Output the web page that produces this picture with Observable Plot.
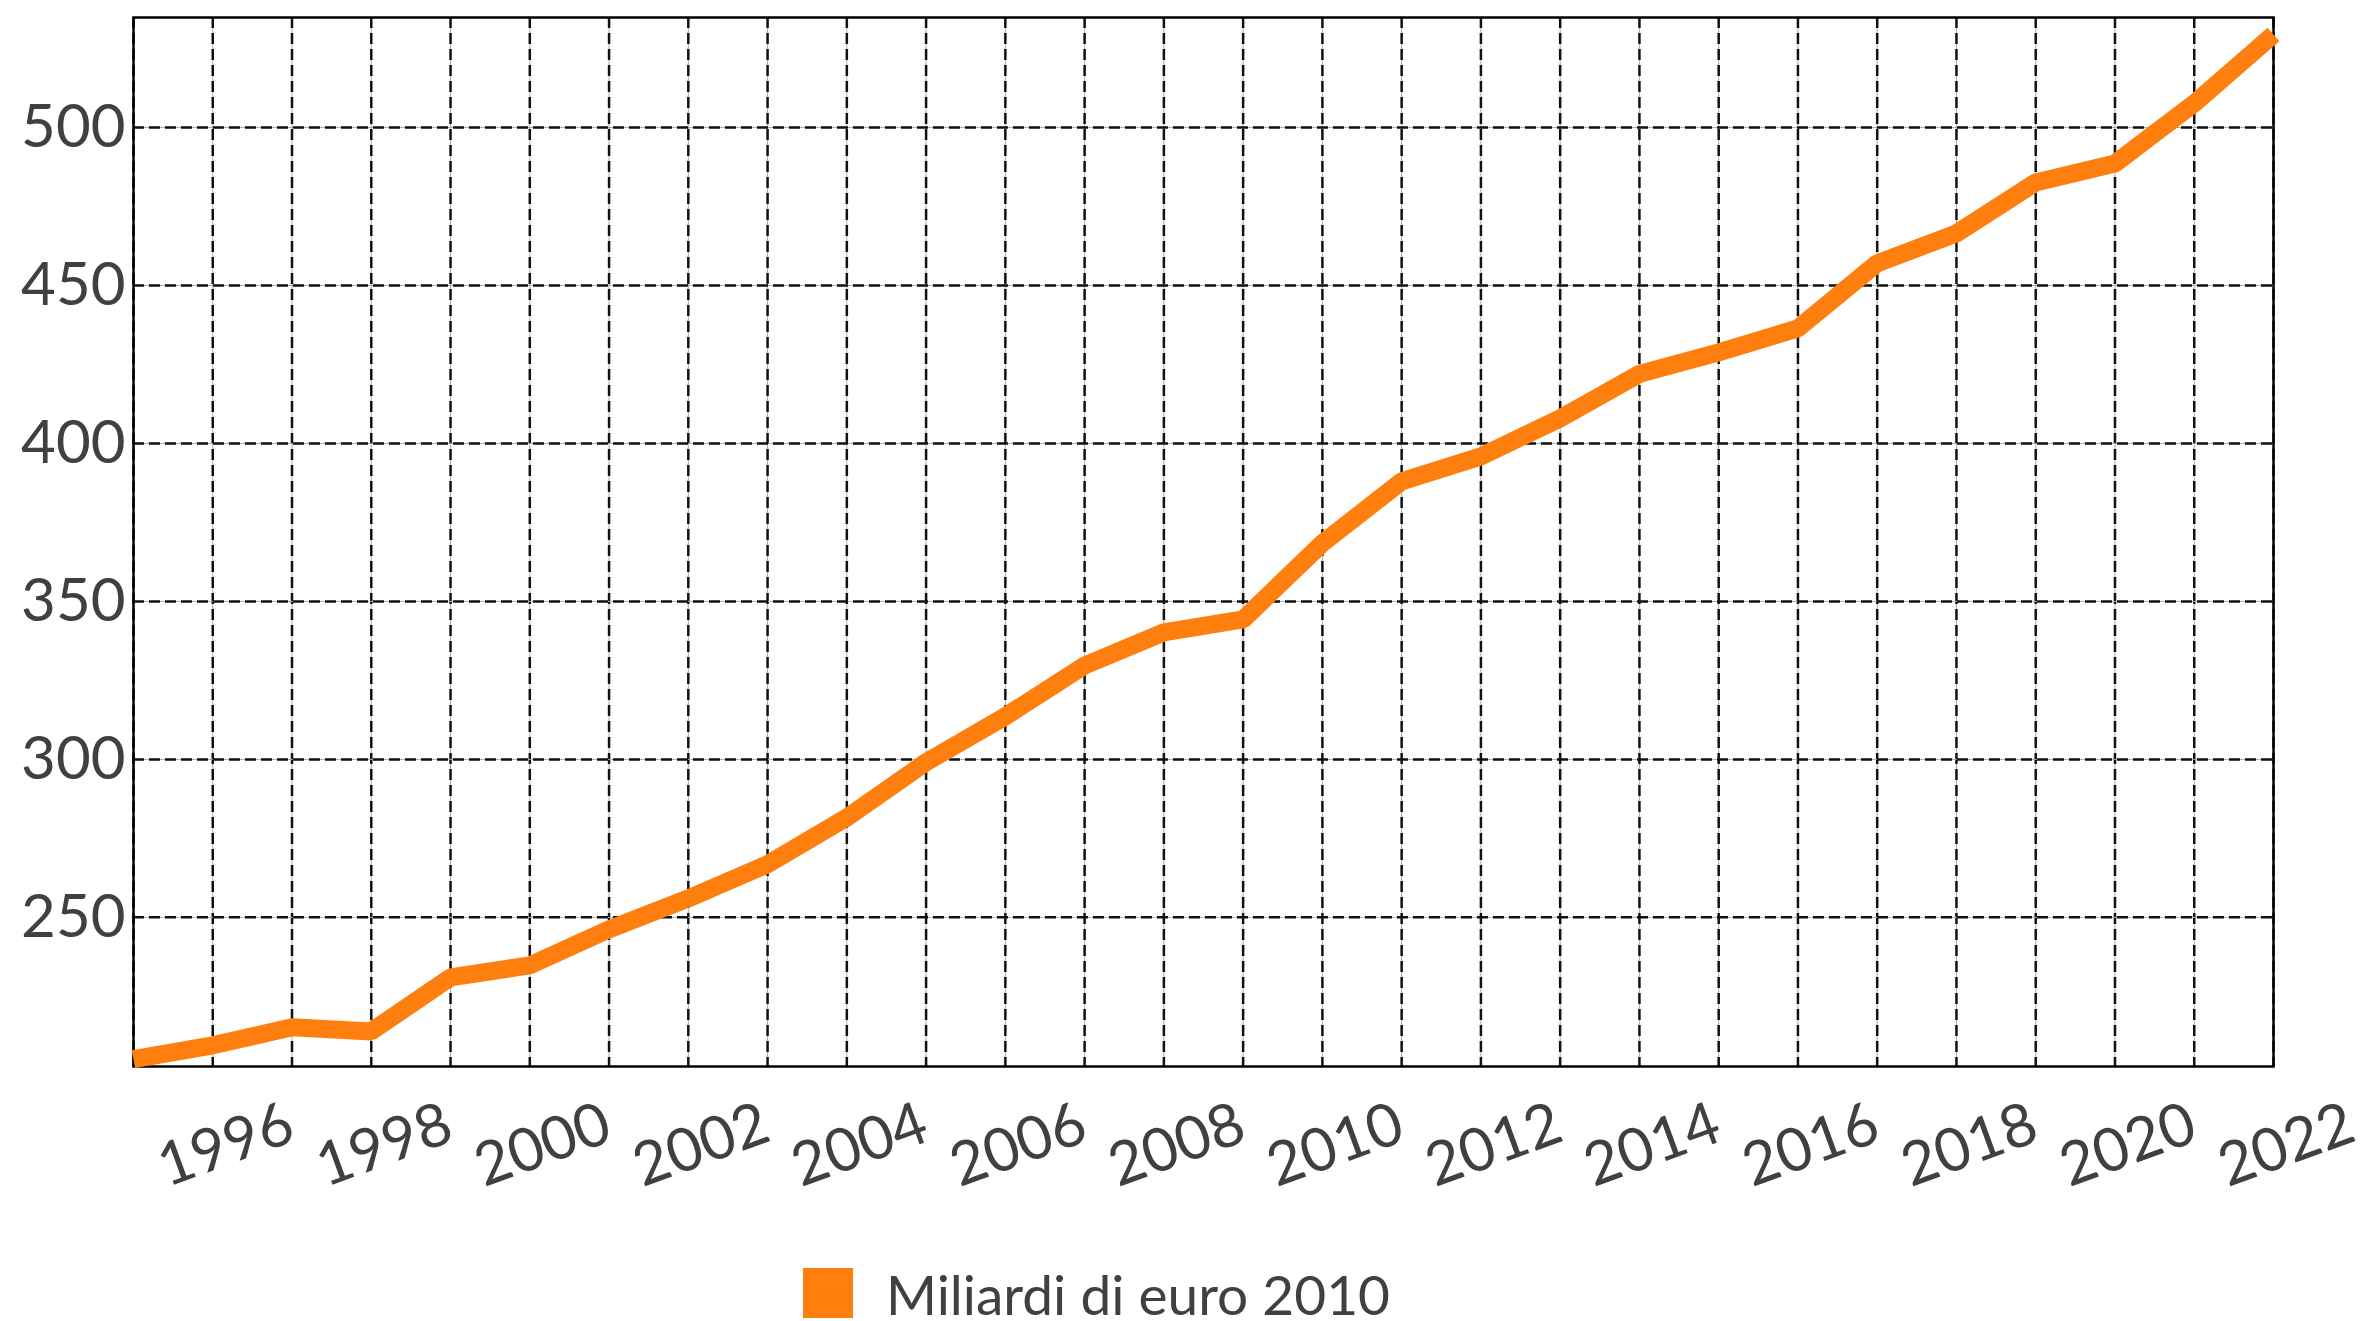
<!DOCTYPE html>
<html>
<head>
<meta charset="utf-8">
<script src="https://cdn.jsdelivr.net/npm/d3@7"></script>
<script src="https://cdn.jsdelivr.net/npm/@observablehq/plot@0.6"></script>
<style>
  html, body { margin: 0; padding: 0; background: white; }
  #chart svg { display: block; }
  .legend { position: relative; height: 71px; font-family: "Source Sans Pro", Lato, sans-serif; }
  .legend .sw { position: absolute; left: 803px; top: 18px; width: 50px; height: 50px; background: #ff7f0e; }
  .legend .lb { position: absolute; left: 886px; top: 11px; font-size: 55px; line-height: 1.2; color: #404040; white-space: nowrap; }
</style>
</head>
<body>
<div id="chart"></div>
<div class="legend"><div class="sw"></div><div class="lb">Miliardi di euro 2010</div></div>
<script>
const years = [1995,1996,1997,1998,1999,2000,2001,2002,2003,2004,2005,2006,2007,2008,2009,2010,2011,2012,2013,2014,2015,2016,2017,2018,2019,2020,2021,2022];
const values = [205.1,209.5,215.2,213.9,231.0,234.8,246.2,256.0,266.8,281.6,299.1,313.6,329.7,340.2,344.3,368.4,388.0,395.9,407.9,422.0,428.8,436.4,457.0,466.5,482.6,488.6,507.6,529.4];
const yTicks = [250,300,350,400,450,500];
const xTickLabels = [1996,1998,2000,2002,2004,2006,2008,2010,2012,2014,2016,2018,2020,2022];
const seriesName = "Miliardi di euro 2010";

const font = "'Source Sans Pro', Lato, sans-serif";
const chart = Plot.plot({
  width: 2362,
  height: 1250,
  marginLeft: 133,
  marginRight: 89,
  marginTop: 17,
  marginBottom: 184,
  style: {fontFamily: font, background: "white", overflow: "visible"},
  x: {domain: [1995, 2022], axis: null},
  y: {domain: [202.8, 534.8], axis: null},
  marks: [
    Plot.ruleX(years, {x: d => d, stroke: "#aaa", strokeWidth: 1}),
    Plot.ruleX(years, {x: d => d, stroke: "#111", strokeWidth: 2.5, strokeDasharray: "11,5"}),
    Plot.ruleY(yTicks, {y: d => d, stroke: "#aaa", strokeWidth: 1}),
    Plot.ruleY(yTicks, {y: d => d, stroke: "#111", strokeWidth: 2.5, strokeDasharray: "11,5"}),
    Plot.frame({stroke: "#000", strokeWidth: 2.5}),
    Plot.line(values, {x: years, y: values, stroke: "#ff7f0e", strokeWidth: 18, strokeLinejoin: "miter", strokeLinecap: "butt"}),
    Plot.text(yTicks, {y: d => d, frameAnchor: "left", text: d => String(d), textAnchor: "end", dx: -8, fontSize: 60, fill: "#404040"}),
    Plot.text(xTickLabels, {x: d => d, frameAnchor: "bottom", text: d => String(d), textAnchor: "middle", lineAnchor: "middle", rotate: -20, dx: 13, dy: 79, fontSize: 60, fill: "#404040"})
  ]
});
document.getElementById("chart").appendChild(chart);
</script>
</body>
</html>
